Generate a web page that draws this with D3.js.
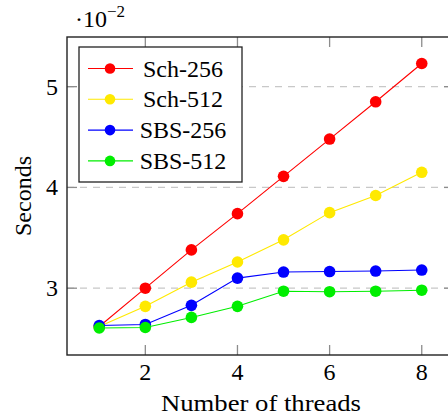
<!DOCTYPE html>
<html>
<head>
<meta charset="utf-8">
<script src="https://cdn.jsdelivr.net/npm/d3@7"></script>
<style>
  html, body { margin: 0; padding: 0; background: #fff; }
  svg text { font-family: "Liberation Serif", "Times New Roman", serif; fill: #000; }
</style>
</head>
<body>
<div id="chart--wrapper"></div>
<script>
// number of threads
var threads = [1, 2, 3, 4, 5, 6, 7, 8];

// seconds per run
var sch256 = [0.0262, 0.0300, 0.0338, 0.0374, 0.0411, 0.0448, 0.0485, 0.0523];
var sch512 = [0.0262, 0.0282, 0.0306, 0.0326, 0.0348, 0.0375, 0.0392, 0.0415];
var sbs256 = [0.0263, 0.0264, 0.0283, 0.0310, 0.0316, 0.03165, 0.0317, 0.0318];
var sbs512 = [0.02605, 0.0261, 0.0271, 0.0282, 0.0297, 0.02965, 0.0297, 0.0298];

var seriesNames = ["Sch-256", "Sch-512", "SBS-256", "SBS-512"];
var seriesColors = ["#ff0000", "#ffe900", "#0000ff", "#00ee00"];

var xTicks = [2, 4, 6, 8];
var yTicks = [0.03, 0.04, 0.05];

var width = 448, height = 420;
// plot box (right edge sits just past the picture, like the original)
var plotL = 67, plotT = 37, plotR = 454, plotB = 355;

var svg = d3.select("#chart--wrapper").append("svg")
  .attr("width", width)
  .attr("height", height);

var x = d3.scaleLinear().domain([0.3, 8.7]).range([plotL, plotR]);
var y = d3.scaleLinear().domain([0.02337, 0.05493]).range([plotB, plotT]);

// horizontal dashed grid
svg.append("g").selectAll("line")
  .data(yTicks)
  .join("line")
  .attr("x1", plotL).attr("x2", plotR)
  .attr("y1", d => y(d)).attr("y2", d => y(d))
  .attr("stroke", "#c8c8c8")
  .attr("stroke-width", 1.3)
  .attr("stroke-dasharray", "7,6");

// ticks pointing inward
var tickLen = 10;
var tickG = svg.append("g").attr("stroke", "#8c8c8c").attr("stroke-width", 1.3);
xTicks.forEach(function(t) {
  tickG.append("line").attr("x1", x(t)).attr("x2", x(t)).attr("y1", plotB).attr("y2", plotB - tickLen);
  tickG.append("line").attr("x1", x(t)).attr("x2", x(t)).attr("y1", plotT).attr("y2", plotT + tickLen);
});
yTicks.forEach(function(t) {
  tickG.append("line").attr("x1", plotL).attr("x2", plotL + tickLen).attr("y1", y(t)).attr("y2", y(t));
  tickG.append("line").attr("x1", plotR).attr("x2", plotR - tickLen).attr("y1", y(t)).attr("y2", y(t));
});

// lines and markers
var allSeries = [sch256, sch512, sbs256, sbs512];
var line = d3.line().x((d, i) => x(threads[i])).y(d => y(d));

allSeries.forEach(function(vals, k) {
  var g = svg.append("g");
  g.append("path")
    .attr("d", line(vals))
    .attr("fill", "none")
    .attr("stroke", seriesColors[k])
    .attr("stroke-width", 1.1);
  g.selectAll("circle")
    .data(vals)
    .join("circle")
    .attr("cx", (d, i) => x(threads[i]))
    .attr("cy", d => y(d))
    .attr("r", 5.8)
    .attr("fill", seriesColors[k]);
});

// frame
svg.append("rect")
  .attr("x", plotL).attr("y", plotT)
  .attr("width", plotR - plotL).attr("height", plotB - plotT)
  .attr("fill", "none")
  .attr("stroke", "#222")
  .attr("stroke-width", 1.4);

// tick labels
svg.append("g").selectAll("text")
  .data(xTicks)
  .join("text")
  .attr("x", d => x(d))
  .attr("y", 380)
  .attr("text-anchor", "middle")
  .style("font-size", "24px")
  .text(d => d);

svg.append("g").selectAll("text")
  .data(yTicks)
  .join("text")
  .attr("x", 58)
  .attr("y", d => y(d) + 8)
  .attr("text-anchor", "end")
  .style("font-size", "24px")
  .text(d => Math.round(d * 100));

// scale factor label
var sf = svg.append("text").attr("x", 75).attr("y", 27).style("font-size", "24px");
sf.append("tspan").text("\u00b710");
sf.append("tspan").attr("dy", -10).style("font-size", "17px").text("\u22122");

// axis titles
svg.append("text")
  .attr("x", 261)
  .attr("y", 411)
  .attr("text-anchor", "middle")
  .style("font-size", "24px")
  .attr("textLength", 200)
  .attr("lengthAdjust", "spacingAndGlyphs")
  .text("Number of threads");

svg.append("text")
  .attr("transform", "translate(31," + ((plotT + plotB) / 2) + ") rotate(-90)")
  .attr("text-anchor", "middle")
  .style("font-size", "24px")
  .text("Seconds");

// legend
var lg = svg.append("g");
lg.append("rect")
  .attr("x", 79).attr("y", 47)
  .attr("width", 163).attr("height", 135)
  .attr("fill", "#fff")
  .attr("stroke", "#222")
  .attr("stroke-width", 1.3);

seriesNames.forEach(function(name, k) {
  var cy = 68.5 + k * 30.8;
  lg.append("line")
    .attr("x1", 88).attr("x2", 133)
    .attr("y1", cy).attr("y2", cy)
    .attr("stroke", seriesColors[k])
    .attr("stroke-width", 1.1);
  lg.append("circle")
    .attr("cx", 110).attr("cy", cy)
    .attr("r", 5.3)
    .attr("fill", seriesColors[k]);
  lg.append("text")
    .attr("x", 183)
    .attr("y", cy + 8)
    .attr("text-anchor", "middle")
    .style("font-size", "24px")
    .text(name);
});
</script>
</body>
</html>
